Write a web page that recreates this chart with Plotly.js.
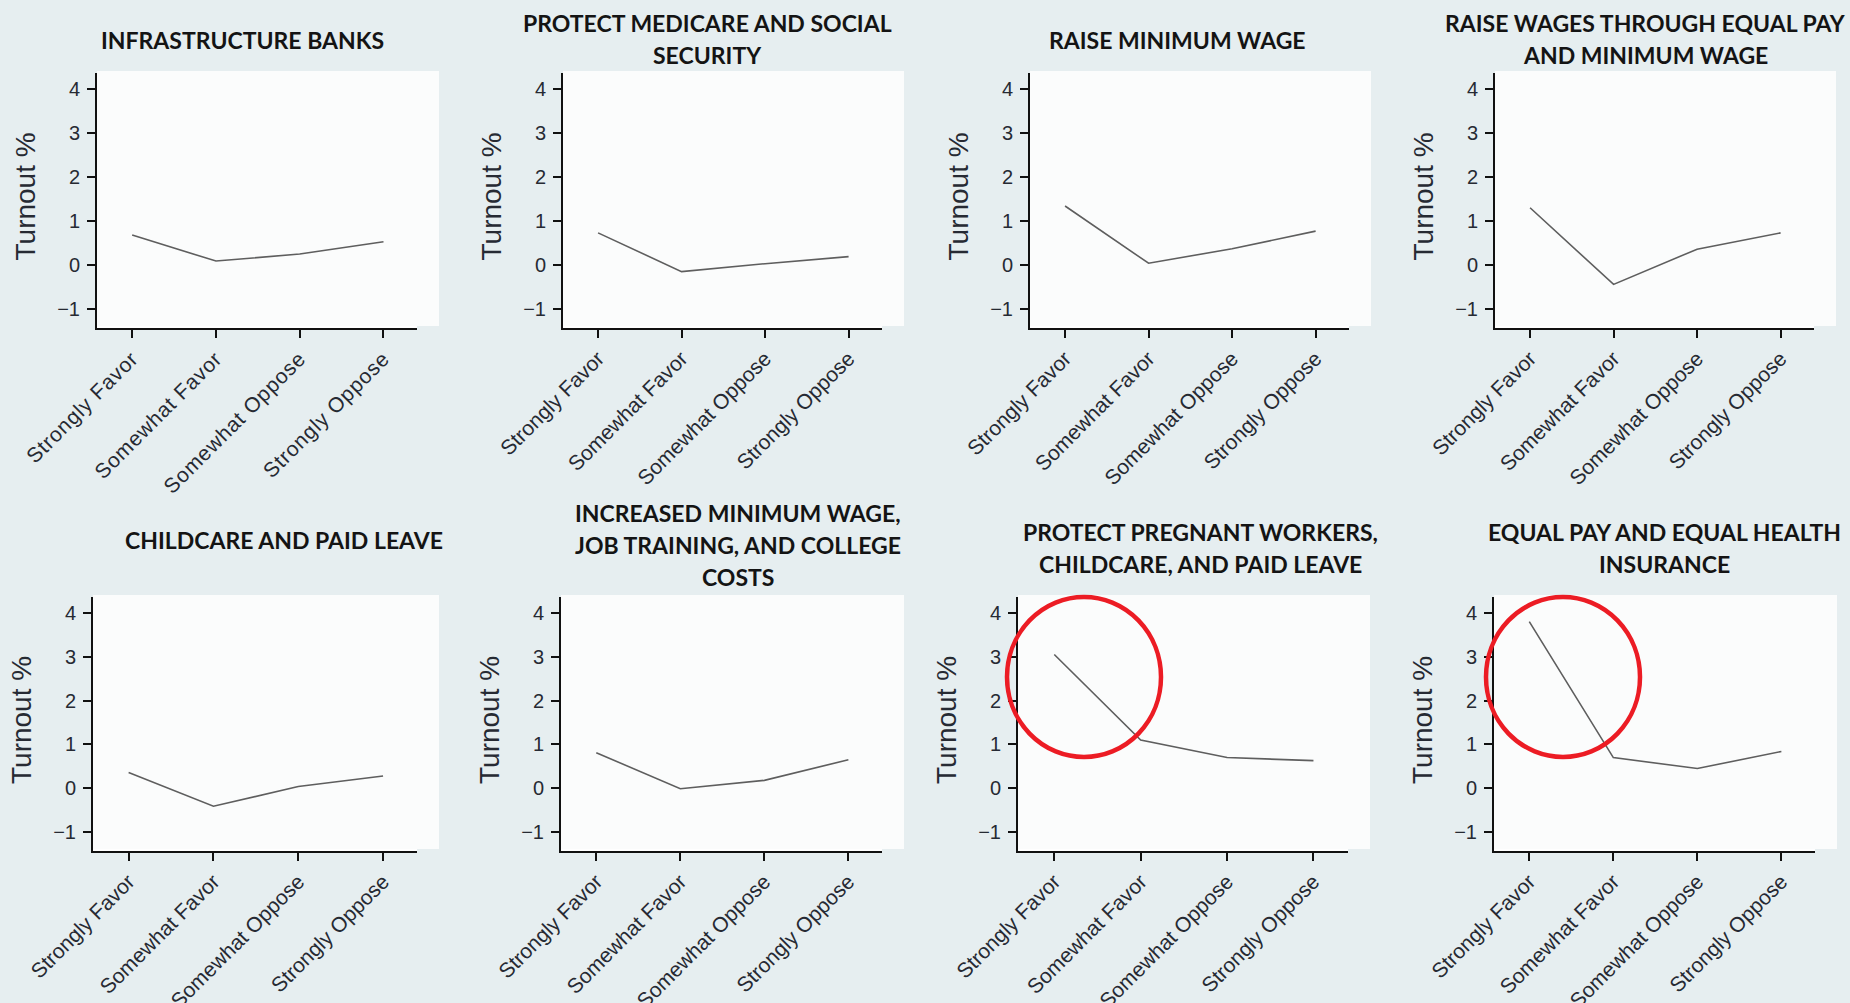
<!DOCTYPE html>
<html>
<head>
<meta charset="utf-8">
<script src="https://cdn.plot.ly/plotly-3.0.1.min.js"></script>
<style>
  html, body { margin: 0; padding: 0; background: #e6eef0; }
  #chart { width: 1850px; height: 1003px; }
  .xtick text { letter-spacing: 0.8px; }
</style>
</head>
<body>
<div id="chart"></div>
<script>
// ---- data ----
const categories = ['Strongly Favor', 'Somewhat Favor', 'Somewhat Oppose', 'Strongly Oppose'];
const yTickValues = [-1, 0, 1, 2, 3, 4];
const yTitle = 'Turnout %';

const infrastructureBanks   = [0.68, 0.09, 0.25, 0.53];
const protectMedicare       = [0.73, -0.15, 0.03, 0.19];
const raiseMinimumWage      = [1.34, 0.04, 0.37, 0.77];
const raiseWagesEqualPay    = [1.30, -0.44, 0.36, 0.73];
const childcarePaidLeave    = [0.36, -0.41, 0.04, 0.28];
const increasedMinWage      = [0.81, -0.01, 0.18, 0.65];
const protectPregnant       = [3.05, 1.10, 0.70, 0.63];
const equalPayHealth        = [3.80, 0.70, 0.45, 0.84];

const panelTitles = [
  ['INFRASTRUCTURE BANKS'],
  ['PROTECT MEDICARE AND SOCIAL', 'SECURITY'],
  ['RAISE MINIMUM WAGE'],
  ['RAISE WAGES THROUGH EQUAL PAY', 'AND MINIMUM WAGE'],
  ['CHILDCARE AND PAID LEAVE'],
  ['INCREASED MINIMUM WAGE,', 'JOB TRAINING, AND COLLEGE', 'COSTS'],
  ['PROTECT PREGNANT WORKERS,', 'CHILDCARE, AND PAID LEAVE'],
  ['EQUAL PAY AND EQUAL HEALTH', 'INSURANCE']
];
const panelSeries = [infrastructureBanks, protectMedicare, raiseMinimumWage, raiseWagesEqualPay,
                     childcarePaidLeave, increasedMinWage, protectPregnant, equalPayHealth];
const highlightedPanels = [6, 7];

// ---- layout geometry (pixels) ----
const W = 1850, H = 1003;
const boxes = [
  {l: 97,   r: 417,  t: 73,  b: 328},
  {l: 563,  r: 882,  t: 73,  b: 328},
  {l: 1030, r: 1349, t: 73,  b: 328},
  {l: 1495, r: 1814, t: 73,  b: 328},
  {l: 93,   r: 417,  t: 597, b: 851},
  {l: 561,  r: 882,  t: 597, b: 851},
  {l: 1018, r: 1348, t: 597, b: 851},
  {l: 1494, r: 1815, t: 597, b: 851}
];
const titlePos = [
  {cx: 242,  y: 40},
  {cx: 707,  y: 23},
  {cx: 1177, y: 40},
  {cx: 1645, y: 23},
  {cx: 284,  y: 540},
  {cx: 738,  y: 513},
  {cx: 1200, y: 532},
  {cx: 1664, y: 532}
];
const circles = [
  {cx: 1084, cy: 677, rx: 77, ry: 80},
  {cx: 1563, cy: 677, rx: 77, ry: 80}
];
const px = x => x / W;
const py = y => 1 - y / H;

const tickFont = {family: 'Liberation Sans, Arial, sans-serif', size: 20, color: '#262a33'};
const xTickFont = {family: 'Liberation Sans, Arial, sans-serif', size: 21, color: '#262a33'};

const traces = [];
const layout = {
  width: W, height: H,
  margin: {l: 0, r: 0, t: 0, b: 0},
  paper_bgcolor: '#e6eef0',
  plot_bgcolor: '#ffffff',
  showlegend: false,
  annotations: [],
  shapes: []
};

panelSeries.forEach((vals, i) => {
  const n = i + 1;
  const xa = n === 1 ? 'xaxis' : 'xaxis' + n;
  const ya = n === 1 ? 'yaxis' : 'yaxis' + n;
  const xr = n === 1 ? 'x' : 'x' + n;
  const yr = n === 1 ? 'y' : 'y' + n;
  const b = boxes[i];
  // soft white backing that extends a little past the axes, as in the reference
  layout.shapes.push({
    type: 'rect', xref: 'paper', yref: 'paper', layer: 'below',
    x0: px(b.l), x1: px(b.r + 22), y0: py(b.b - 2), y1: py(b.t - 2),
    line: {width: 0}, fillcolor: '#fbfcfc'
  });
  traces.push({
    type: 'scatter', mode: 'lines',
    x: categories, y: vals,
    xaxis: xr, yaxis: yr,
    line: {color: '#5e5e5e', width: 1.6},
    hoverinfo: 'skip'
  });
  layout[xa] = {
    domain: [px(b.l), px(b.r)],
    anchor: yr,
    type: 'category',
    range: [-0.42, 3.4],
    showline: true, linecolor: '#111', linewidth: 2,
    ticks: 'outside', ticklen: 8, tickwidth: 2, tickcolor: '#111',
    tickangle: -45,
    tickfont: xTickFont,
    showgrid: false, zeroline: false, fixedrange: true
  };
  layout[ya] = {
    domain: [py(b.b), py(b.t)],
    anchor: xr,
    range: [-1.43, 4.36],
    tickvals: yTickValues,
    showline: true, linecolor: '#111', linewidth: 2,
    ticks: 'outside', ticklen: 8, tickwidth: 2, tickcolor: '#111',
    ticklabelstandoff: 3,
    tickfont: tickFont,
    showgrid: false, zeroline: false, fixedrange: true
  };
  // y axis title
  layout.annotations.push({
    xref: 'paper', yref: 'paper',
    x: px(b.l - 72), y: py((b.t + b.b) / 2 - 4),
    text: yTitle, textangle: -90, showarrow: false,
    xanchor: 'center', yanchor: 'middle',
    font: {family: 'Liberation Sans, Arial, sans-serif', size: 28, color: '#262a33'}
  });
  // panel title lines
  panelTitles[i].forEach((line, k) => {
    layout.annotations.push({
      xref: 'paper', yref: 'paper',
      x: px(titlePos[i].cx), y: py(titlePos[i].y + 32 * k),
      text: line, showarrow: false,
      xanchor: 'center', yanchor: 'middle',
      font: {family: 'Lato, sans-serif', size: 23, weight: 700, color: '#141414'}
    });
  });
});

highlightedPanels.forEach((p, k) => {
  const c = circles[k];
  layout.shapes.push({
    type: 'circle', xref: 'paper', yref: 'paper',
    x0: px(c.cx - c.rx), x1: px(c.cx + c.rx),
    y0: py(c.cy + c.ry), y1: py(c.cy - c.ry),
    line: {color: '#ec1c24', width: 4.5},
    fillcolor: 'rgba(0,0,0,0)'
  });
});

Plotly.newPlot('chart', traces, layout, {displayModeBar: false, staticPlot: true});
</script>
</body>
</html>
